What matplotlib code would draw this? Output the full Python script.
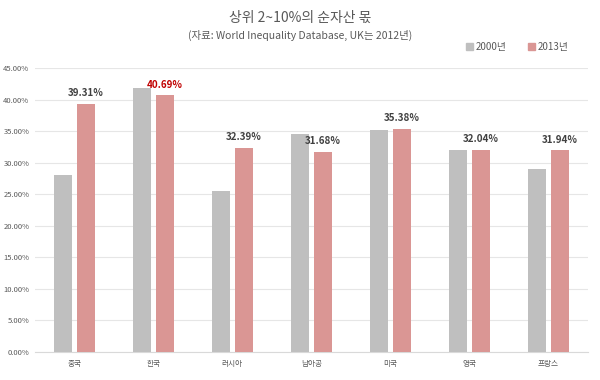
import matplotlib
matplotlib.use("Agg")
import matplotlib.pyplot as plt
from matplotlib.ticker import FuncFormatter
from matplotlib.patches import Patch
import numpy as np

plt.rcParams['font.family'] = ['Noto Sans CJK KR', 'DejaVu Sans']

categories = ['중국', '한국', '러시아', '남아공', '미국', '영국', '프랑스']
values_2000 = [28.05, 41.8, 25.5, 34.6, 35.2, 32.0, 28.95]
values_2013 = [39.31, 40.69, 32.39, 31.68, 35.38, 32.04, 31.94]
series_names = ['2000년', '2013년']
highlight = '한국'

gray = '#BFBFBF'
red = '#DA9694'
text_gray = '#595959'

fig = plt.figure(figsize=(6, 3.8), dpi=100)
ax = fig.add_axes([0.058, 0.074, 0.922, 0.747])

x = np.arange(len(categories))
w = 0.23
off = 0.145
ax.bar(x - off, values_2000, width=w, color=gray, zorder=3)
ax.bar(x + off, values_2013, width=w, color=red, zorder=3)

for xi, v, c in zip(x, values_2013, categories):
    col = '#C00000' if c == highlight else '#404040'
    ax.annotate(f'{v:.2f}%', (xi + off, v), xytext=(0, 4), textcoords='offset points',
                ha='center', va='bottom', fontsize=7.1, fontweight='bold', color=col, zorder=4)

ax.set_xlim(-0.5, len(categories) - 0.5)
ax.set_ylim(0, 45)
ax.set_yticks(np.arange(0, 45.1, 5))
ax.yaxis.set_major_formatter(FuncFormatter(lambda v, p: f'{v:.2f}%'))
ax.set_xticks(x)
ax.set_xticklabels(categories)
ax.tick_params(axis='both', length=0, labelsize=5.5, colors=text_gray)
ax.tick_params(axis='x', pad=6)
ax.tick_params(axis='y', pad=4)
ax.grid(axis='y', color='#E6E6E6', linewidth=0.8, zorder=0)
for s in ['top', 'right', 'left']:
    ax.spines[s].set_visible(False)
ax.spines['bottom'].set_color('#D9D9D9')

fig.text(0.5, 0.952, '상위 2~10%의 순자산 몫', ha='center', va='center', fontsize=10, color=text_gray)
fig.text(0.5, 0.906, '(자료: World Inequality Database, UK는 2012년)', ha='center', va='center', fontsize=7.5, color=text_gray)

handles = [Patch(color=gray), Patch(color=red)]
fig.legend(handles, series_names, loc='center', bbox_to_anchor=(0.862, 0.877), ncol=2, frameon=False,
           fontsize=7, handlelength=0.7, handleheight=0.7, handletextpad=0.3, columnspacing=2.2,
           labelcolor=text_gray)

fig.savefig('out.png', dpi=100)
